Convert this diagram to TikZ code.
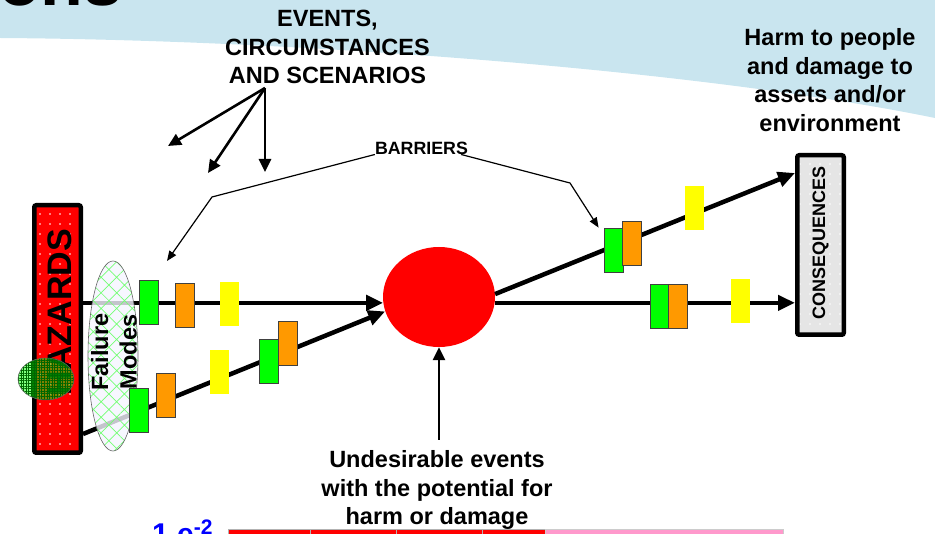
\documentclass[tikz,border=0pt]{standalone}
\usepackage{fontspec}
\setmainfont{Liberation Sans}
\usetikzlibrary{shapes.geometric,arrows.meta,patterns.meta}

\definecolor{bandblue}{RGB}{201,229,239}
\definecolor{gbar}{RGB}{0,255,0}
\definecolor{obar}{RGB}{255,153,0}
\definecolor{ybar}{RGB}{255,255,0}
\definecolor{pinkbar}{RGB}{255,153,204}

\begin{document}
\begin{tikzpicture}[x = 1pt, y = -1pt,
  barrier/.style = {shape = rectangle, minimum width = 19pt, minimum height = 44pt, inner sep = 0pt},
  gbox/.style = {barrier, fill = gbar, draw = black!75, line width = 0.8pt},
  obox/.style = {barrier, fill = obar, draw = black!75, line width = 0.8pt},
  ybox/.style = {barrier, fill = ybar},
  endbox/.style = {shape = rectangle, draw = black, line width = 4.5pt, rounded corners = 2pt, minimum width = 46.5pt},
  flow/.style = {line width = 4.5pt, -{Triangle[length = 17pt, width = 15pt]}},
  pointer/.style = {line width = 2.6pt, -{Triangle[length = 13pt, width = 12pt]}},
  callout/.style = {line width = 1.2pt, -{Triangle[length = 10pt, width = 8pt]}},
  txt/.style = {font = \bfseries\fontsize{23.5}{28.5}\selectfont, align = center, inner sep = 0pt}]
\useasboundingbox (0,0) rectangle (935,534);
\clip (0,0) rectangle (935,534);

\fill[bandblue] (0,0) -- (935,0) -- (935,118) .. controls (700,70) and (300,40) .. (0,38) -- cycle;
\node[anchor = base west, inner sep = 0pt, font = \bfseries\fontsize{70}{70}\selectfont] (ttl) at (-2,6) {ons};

\node[endbox, minimum height = 247.5pt, preaction = {fill = red}, pattern = {Dots[radius = 0.9pt, distance = 10pt]}, pattern color = white] (haz) at (57.5,329) {};
\node[rotate = 90, inner sep = 0pt, font = \bfseries\fontsize{34}{34}\selectfont] (hzt) at (60,312) {HAZARDS};
\node[endbox, minimum height = 179.5pt, preaction = {fill = black!10}, pattern = {Dots[radius = 0.8pt, distance = 10pt]}, pattern color = white] (cq) at (820.5,245) {};
\node[rotate = 90, inner sep = 0pt, font = \bfseries\fontsize{18}{18}\selectfont] (cqt) at (820.5,243) {CONSEQUENCES};
\node[ellipse, fill = red, minimum width = 112pt, minimum height = 100pt] (ue) at (439,297) {};

\draw[flow] (haz.east |- ue.186) -- (ue.186);
\draw[flow] ([yshift = 21pt]haz.south east) -- (ue.195);
\draw[flow] (ue.3) -- ([yshift = -20pt]cq.north west);
\draw[flow] (ue.354) -- (cq.west |- ue.354);

\node[ellipse, draw = black!60, line width = 0.6pt, minimum width = 50pt, minimum height = 190pt, preaction = {fill = blue!4, fill opacity = 0.8}, pattern = {Hatch[angle = 45, distance = 11pt, line width = 0.7pt]}, pattern color = green!55] (fm) at (113,356) {};
\node[txt, rotate = 90] (fmt) at (114,352) {Failure\\Modes};
\node[ellipse, draw = black!60, line width = 0.5pt, minimum width = 56pt, minimum height = 42pt, preaction = {fill = green, fill opacity = 0.5}, pattern = {Hatch[angle = 0, distance = 2.6pt, line width = 0.3pt]}, pattern color = green!40!black] (hc) at (46,379) {};

\begin{scope}[nodes = {}]
\node[gbox] (g1) at (148.5,302) {};
\node[obox] (o1) at (185,305) {};
\node[ybox] (y1) at (229,304.5) {};
\node[gbox] (g2) at (139,410) {};
\node[obox] (o2) at (166,395) {};
\node[ybox] (y2) at (219.5,372) {};
\node[gbox] (g3) at (269,361.5) {};
\node[obox] (o3) at (287.5,343.5) {};
\node[gbox] (g4) at (613.5,250) {};
\node[obox] (o4) at (631.5,243.5) {};
\node[ybox] (y4) at (694,208.5) {};
\node[gbox] (g5) at (659.5,306) {};
\node[obox] (o5) at (678,306) {};
\node[ybox] (y5) at (740.5,301.5) {};
\end{scope}

\node[txt] (ev) at (327.5,47) {EVENTS,\\CIRCUMSTANCES\\AND SCENARIOS};
\node[txt] (hm) at (830,80) {Harm to people\\and damage to\\assets and/or\\environment};
\node[txt] (ud) at (437,490) {Undesirable events\\with the potential for\\harm or damage};
\node[inner sep = 0pt, font = \bfseries\fontsize{17.8}{17.8}\selectfont] (brr) at (421.5,148) {BARRIERS};

\coordinate (e0) at (265,88);
\coordinate (e1) at (168,146);
\coordinate (e2) at (208,173);
\coordinate (e3) at (265,172);
\draw[pointer] (e0) -- (e1);
\draw[pointer] (e0) -- (e2);
\draw[pointer] (e0) -- (e3);

\coordinate (k1) at (212,197);
\coordinate (t1) at (167,261);
\coordinate (k2) at (570,183);
\draw[callout] (brr.south west) -- (k1) -- (t1);
\draw[callout] ([xshift = -7pt]brr.south east) -- (k2) -- ([xshift = -5pt]g4.north west);

\coordinate (u0) at (439,440);
\draw[pointer] (u0) -- (ue.south);

\foreach \a/\b in {228/310, 310/396, 396/482, 482/545}
  \draw[gray!60, fill = red] (\a,529) rectangle (\b,545);
\draw[gray!40, fill = pinkbar] (545,529) rectangle (783,545);
\node[anchor = base west, inner sep = 0pt, text = blue, font = \bfseries\fontsize{30}{30}\selectfont] (sc) at (152,544) {1.e\textsuperscript{-2}};
\end{tikzpicture}
\end{document}
